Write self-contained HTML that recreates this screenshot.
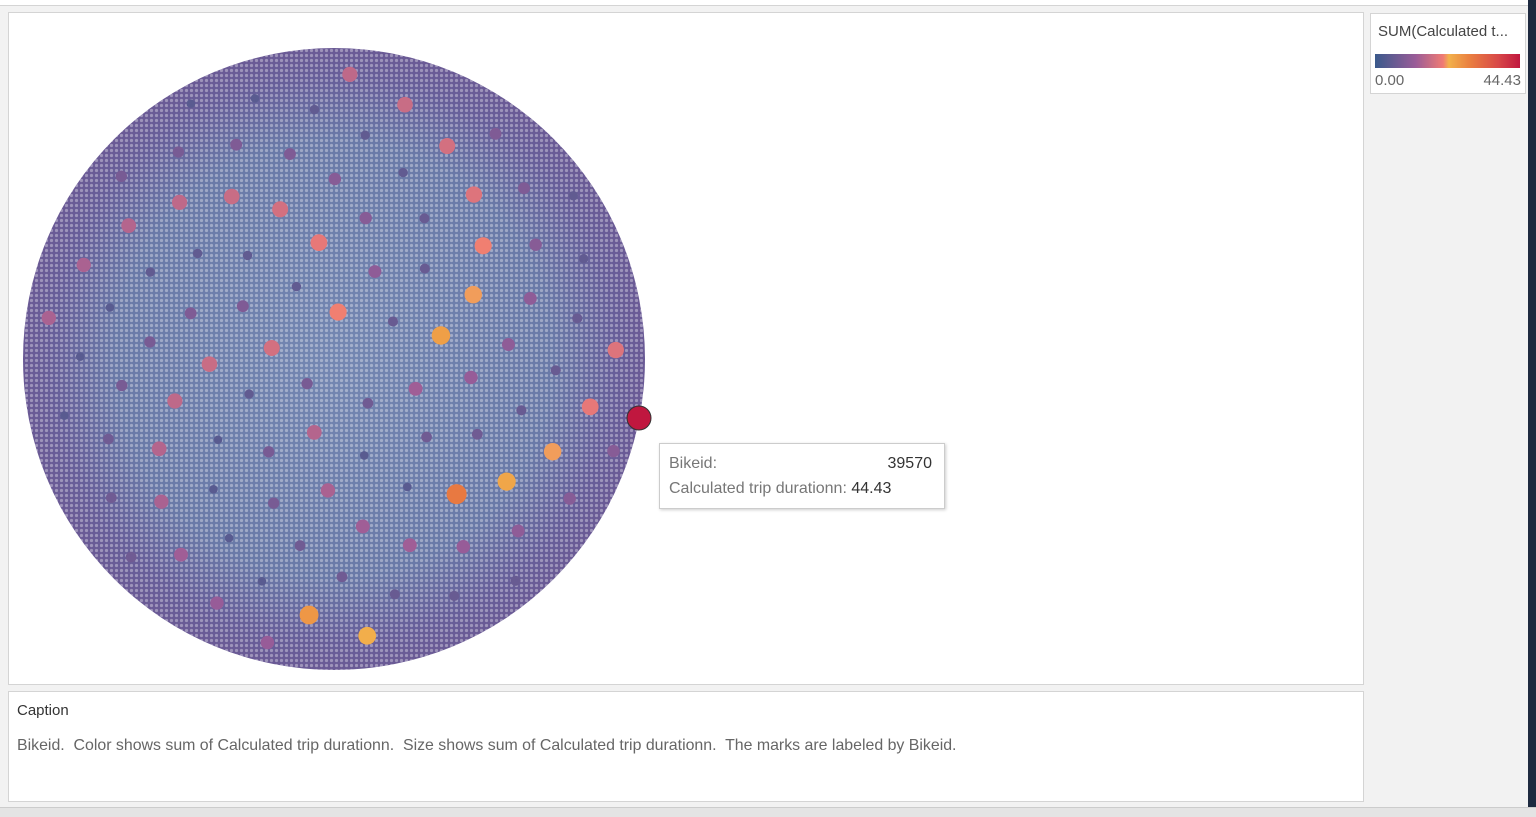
<!DOCTYPE html>
<html><head><meta charset="utf-8">
<style>
body{margin:0;width:1536px;height:816px;background:#f2f2f2;font-family:"Liberation Sans",sans-serif;position:relative;overflow:hidden}
.box{position:absolute;background:#fff;border:1px solid #d4d4d4}
</style></head><body>
<div style="position:absolute;left:0;top:0;width:1536px;height:5px;background:#fff;border-bottom:1px solid #d4d4d4"></div>
<div class="box" style="left:8px;top:12px;width:1354px;height:671px">
<svg id="chart" width="1354" height="671">
<defs>
<radialGradient id="bg" cx="0.5" cy="0.5" r="0.5">
<stop offset="0" stop-color="#7487b2"/><stop offset="0.7" stop-color="#6a7aa8"/><stop offset="0.9" stop-color="#675f9a"/><stop offset="1" stop-color="#6a5a95"/>
</radialGradient>
<pattern id="tex" width="5" height="5" patternUnits="userSpaceOnUse"><circle cx="2.5" cy="2.5" r="1.6" fill="#fff" opacity="0.35"/></pattern>
</defs>
<circle cx="325" cy="346" r="311" fill="url(#bg)"/>
<circle cx="325" cy="346" r="311" fill="url(#tex)"/>
<g id="marks"></g>
</svg>
</div>
<div style="position:absolute;left:659px;top:443px;width:284px;height:64px;background:#fff;border:1px solid #ccc;box-shadow:1px 1px 3px rgba(0,0,0,.2);font-size:16px;color:#777">
<div style="position:absolute;left:9px;top:11px">Bikeid:</div><div style="position:absolute;right:12px;top:11px;color:#333">39570</div>
<div style="position:absolute;left:9px;top:36px">Calculated trip durationn: <span style="color:#333">44.43</span></div>
</div>
<div class="box" style="left:1370px;top:13px;width:154px;height:79px">
<div style="position:absolute;left:7px;top:9px;font-size:15px;color:#444">SUM(Calculated t...</div>
<div style="position:absolute;left:4px;top:40px;width:145px;height:14px;background:linear-gradient(90deg,#3a5a8c,#9a5c98 28%,#f07b74 47%,#f2b14c 51%,#ea8040 65%,#d84848 85%,#c0173f)"></div>
<div style="position:absolute;left:4px;top:58px;font-size:15px;color:#666">0.00</div>
<div style="position:absolute;right:4px;top:58px;font-size:15px;color:#666">44.43</div>
</div>
<div class="box" style="left:8px;top:691px;width:1354px;height:109px">
<div style="position:absolute;left:8px;top:10px;font-size:15px;color:#333">Caption</div>
<div style="position:absolute;left:8px;top:45px;font-size:15.9px;color:#666">Bikeid.&nbsp; Color shows sum of Calculated trip durationn.&nbsp; Size shows sum of Calculated trip durationn.&nbsp; The marks are labeled by Bikeid.</div>
</div>
<div style="position:absolute;left:1528px;top:0;width:8px;height:816px;background:#1e2a40"></div>
<div style="position:absolute;left:0;top:807px;width:1536px;height:9px;background:#e4e4e4;border-top:1px solid #ccc"></div>
<script>
const bikeValues=[44.43,30,26,25,24,23,22,22,21,21,20,20,19,19,18,18,18,17,17,17,16,16,16,15,15,15,14,14,14,14,13,13,13,13,12,12,12,12,11,11,11,11,10,10,10,10,10,9,9,9,9,9,9,8,8,8,8,8,8,8,7,7,7,7,7,7,7,7,6,6,6,6,6,6,6,6,6,5,5,5,5,5,5,5,5,5,5,4,4,4,4,4,4,4,4,4,4,4];
const maxValue=44.43;
const stops=[[0,[58,90,140]],[0.28,[154,92,152]],[0.47,[240,123,116]],[0.51,[242,177,76]],[0.65,[234,128,64]],[0.85,[216,72,72]],[1,[192,23,63]]];
function color(v){const t=Math.min(1,v/maxValue);for(let i=1;i<stops.length;i++){if(t<=stops[i][0]){const a=stops[i-1],b=stops[i];const f=(t-a[0])/(b[0]-a[0]);const c=a[1].map((x,j)=>Math.round(x+(b[1][j]-x)*f));return `rgb(${c})`;}}return 'rgb(192,23,63)';}
function rScale(v){return 11*Math.sqrt(v/maxValue)+1;}
const g=document.getElementById('marks');const N=bikeValues.length;const cx=325,cy=346,R=295;
bikeValues.forEach((v,i)=>{
 const c=document.createElementNS('http://www.w3.org/2000/svg','circle');
 let x,y;
 if(i===0){x=cx+R+10;y=cy+59;}else{const k=(i*37)%N;const rr=R*Math.sqrt((k+0.5)/N);const a=k*2.39996;x=cx+rr*Math.cos(a);y=cy+rr*Math.sin(a);}
 c.setAttribute('cx',x);c.setAttribute('cy',y);c.setAttribute('r',rScale(v));c.setAttribute('fill',color(v));
 if(i===0){c.setAttribute('stroke','#333');c.setAttribute('stroke-width','1');}
 
 
 g.appendChild(c);
});
</script>
</body></html>
